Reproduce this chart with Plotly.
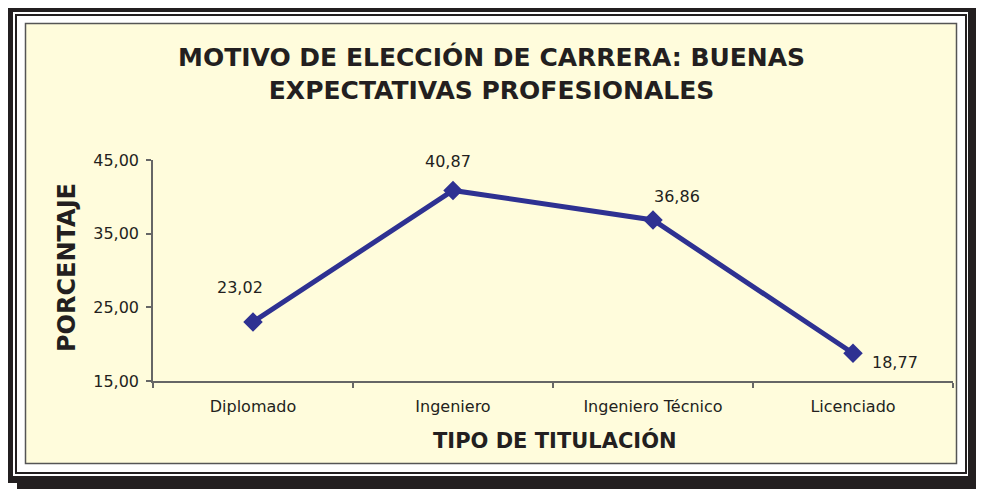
import plotly.graph_objects as go

categories = ["Diplomado", "Ingeniero", "Ingeniero Técnico", "Licenciado"]
values = [23.02, 40.87, 36.86, 18.77]
y_ticks = [15, 25, 35, 45]
title_text = "MOTIVO DE ELECCIÓN DE CARRERA: BUENAS<br>EXPECTATIVAS PROFESIONALES"
x_title = "TIPO DE TITULACIÓN"
y_title = "PORCENTAJE"

# label offsets (pixels) relative to each point
label_dx = [-13, -5, 24, 42]
label_dy = [34, 29, 23, -9]

OFF = 8  # page body margin
W, H = 984 - OFF, 489 - OFF
L, R, T, B = 153 - OFF, 953 - OFF, 160 - OFF, 381 - OFF  # plot area in figure pixels


def px(x):
    return (x - OFF - L) / (R - L)


def py(y):
    return (B - (y - OFF)) / (B - T)


LINE = "#2E3192"
CREAM = "#FFFCDC"
FONT = "DejaVu Sans"

fig = go.Figure()
fig.add_trace(go.Scatter(
    x=categories, y=values, mode="lines+markers",
    line=dict(color=LINE, width=5),
    marker=dict(symbol="diamond", size=15, color=LINE),
    hoverinfo="skip", showlegend=False,
))

shapes = []


def rect(x0, y0, x1, y1, fill, line_color=None, lw=0):
    shapes.append(dict(
        type="rect", xref="paper", yref="paper", layer="below",
        x0=px(x0), x1=px(x1), y0=py(y1), y1=py(y0),
        fillcolor=fill,
        line=dict(color=line_color or fill, width=lw),
    ))


rect(17, 14, 984, 489, "#231F20")
rect(6, 4, 976, 483, "#231F20")
rect(13, 12, 968, 476, "#FFFFFF")
rect(15, 14, 967, 474, "#231F20")
rect(17, 16, 965, 472, "#FFFFFF")
rect(25.5, 23.5, 956.5, 463.5, CREAM, "#555555", 1.5)

annotations = []
for c, v, dx, dy in zip(categories, values, label_dx, label_dy):
    annotations.append(dict(
        x=c, y=v, xref="x", yref="y", showarrow=False,
        text=f"{v:.2f}".replace(".", ","),
        xshift=dx, yshift=dy,
        font=dict(family=FONT, size=16, color="#231F20"),
    ))

annotations.append(dict(
    x=px(491), y=py(73), xref="paper", yref="paper", showarrow=False,
    text=title_text, xanchor="center", yanchor="middle",
    font=dict(family=FONT, size=25, color="#231F20", weight="bold"),
))
annotations.append(dict(
    x=px(555), y=py(440), xref="paper", yref="paper", showarrow=False,
    text=x_title, xanchor="center", yanchor="middle",
    font=dict(family=FONT, size=21, color="#231F20", weight="bold"),
))
annotations.append(dict(
    x=px(67), y=py(268), xref="paper", yref="paper", showarrow=False,
    text=y_title, textangle=-90, xanchor="center", yanchor="middle",
    font=dict(family=FONT, size=24, color="#231F20", weight="bold"),
))

fig.update_layout(
    width=W, height=H,
    margin=dict(l=L, r=W - R, t=T, b=H - B, pad=0),
    paper_bgcolor="#FFFFFF",
    plot_bgcolor="rgba(0,0,0,0)",
    separators=",.",
    shapes=shapes,
    annotations=annotations,
    showlegend=False,
)
fig.update_xaxes(
    type="category", range=[-0.5, 3.5],
    showgrid=False, zeroline=False,
    showline=True, linecolor="#666666", linewidth=1.5,
    ticks="outside", ticklen=5, tickcolor="#666666", tickwidth=1.5,
    tickson="boundaries", ticklabelstandoff=10,
    tickfont=dict(family=FONT, size=16, color="#231F20"),
)
fig.update_yaxes(
    range=[15, 45], tickvals=y_ticks, tickformat=".2f",
    showgrid=False, zeroline=False,
    showline=True, linecolor="#666666", linewidth=1.5,
    ticks="outside", ticklen=5, tickcolor="#666666", tickwidth=1.5,
    ticklabelstandoff=4,
    tickfont=dict(family=FONT, size=16, color="#231F20"),
)

fig.write_html("out.html")
